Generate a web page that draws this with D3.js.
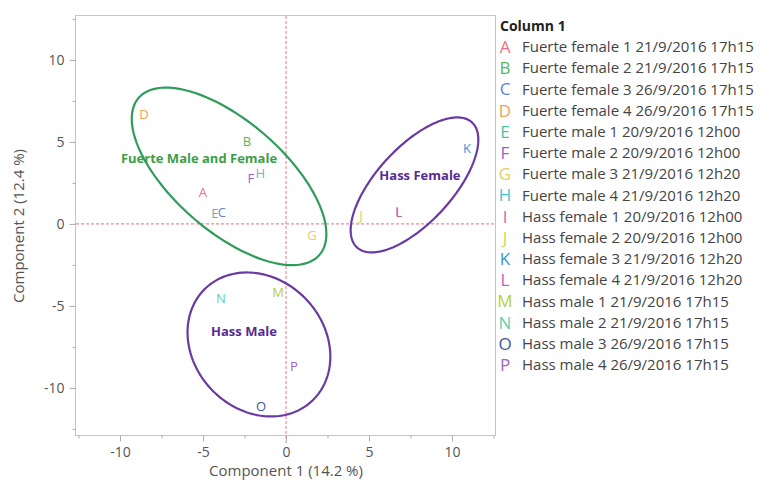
<!DOCTYPE html>
<meta charset="utf-8">
<title>PCA scores</title>
<style>

body {
  margin: 0;
  background: #fff;
}

text {
  font-family: "Open Sans", sans-serif;
}

.frame {
  fill: none;
  stroke: #c4c4c4;
}

.axis path {
  display: none;
}

.axis line {
  stroke: #b0b0b0;
}

.axis text {
  fill: #555;
  font-size: 14px;
}

.refline {
  stroke: #f08a9a;
  stroke-width: 1.2px;
  stroke-dasharray: 3,2;
}

</style>
<body>
<script src="https://cdn.jsdelivr.net/npm/d3@7"></script>
<script>

// samples (letter marks)
var letters = ["A","B","C","D","E","F","G","H","I","J","K","L","M","N","O","P"];
var names = [
  "Fuerte female 1 21/9/2016 17h15",
  "Fuerte female 2 21/9/2016 17h15",
  "Fuerte female 3 26/9/2016 17h15",
  "Fuerte female 4 26/9/2016 17h15",
  "Fuerte male 1 20/9/2016 12h00",
  "Fuerte male 2 20/9/2016 12h00",
  "Fuerte male 3 21/9/2016 12h20",
  "Fuerte male 4 21/9/2016 12h20",
  "Hass female 1 20/9/2016 12h00",
  "Hass female 2 20/9/2016 12h00",
  "Hass female 3 21/9/2016 12h20",
  "Hass female 4 21/9/2016 12h20",
  "Hass male 1 21/9/2016 17h15",
  "Hass male 2 21/9/2016 17h15",
  "Hass male 3 26/9/2016 17h15",
  "Hass male 4 26/9/2016 17h15"
];
var comp1 = [-5.0, -2.35, -3.86, -8.55, -4.28, -2.11, 1.57, -1.55, 6.69, 4.52, 10.9, 6.8, -0.48, -3.92, -1.5, 0.48];
var comp2 = [1.95, 5.06, 0.67, 6.65, 0.61, 2.8, -0.73, 3.05, 0.79, 0.49, 4.63, 0.67, -4.15, -4.57, -11.1, -8.66];
var colors = ["#ec6f82", "#55b855", "#5b84d8", "#e9a35a", "#4cc4a0", "#9a5fd0", "#e6cf5c", "#48c3d6",
              "#cf6aa2", "#c6d95e", "#3d93d2", "#c35ec0", "#b7cf3c", "#5fcfb0", "#4154a3", "#a461c4"];

// ellipse groups (data units)
var groups = ["Fuerte Male and Female", "Hass Female", "Hass Male"];
var groupCx = [-3.43, 7.74, -1.63];
var groupCy = [2.90, 2.38, -7.35];
var groupA = [7.25, 5.15, 4.7];
var groupB = [3.33, 2.28, 3.96];
var groupAngle = [-41.5, 47.9, -48.5];
var groupLabelX = [-5.24, 8.07, -2.53];
var groupLabelY = [3.70, 2.66, -6.85];
var groupColors = ["#2f9c5c", "#6a3aa2", "#6a3aa2"];
var labelColors = ["#3aa048", "#5a2a90", "#5a2a90"];

var xTicks = [-10, -5, 0, 5, 10];
var yTicks = [-10, -5, 0, 5, 10];

var width = 771,
    height = 484,
    plotLeft = 75,
    plotRight = 495,
    plotTop = 15,
    plotBottom = 435;

var x = d3.scaleLinear().domain([-12.71, 12.59]).range([plotLeft, plotRight]);
var y = d3.scaleLinear().domain([-12.87, 12.74]).range([plotBottom, plotTop]);

var svg = d3.select("body").append("svg")
    .attr("width", width)
    .attr("height", height);

svg.append("rect")
    .attr("class", "frame")
    .attr("x", plotLeft + 0.5)
    .attr("y", plotTop + 0.5)
    .attr("width", plotRight - plotLeft)
    .attr("height", plotBottom - plotTop);

// minor ticks every 2.5
var minorX = d3.range(-12.5, 12.6, 2.5).filter(function(d) { return x(d) >= plotLeft && x(d) <= plotRight; });
var minorY = d3.range(-12.5, 12.6, 2.5).filter(function(d) { return y(d) >= plotTop && y(d) <= plotBottom; });

svg.append("g")
    .attr("class", "axis")
    .attr("transform", "translate(0," + (plotBottom + 0.5) + ")")
    .call(d3.axisBottom(x).tickValues(minorX).tickSize(3).tickFormat(""));

svg.append("g")
    .attr("class", "axis")
    .attr("transform", "translate(" + (plotLeft + 0.5) + ",0)")
    .call(d3.axisLeft(y).tickValues(minorY).tickSize(3).tickFormat(""));

svg.append("g")
    .attr("class", "axis")
    .attr("transform", "translate(0," + (plotBottom + 0.5) + ")")
    .call(d3.axisBottom(x).tickValues(xTicks).tickSize(6).tickPadding(6).tickFormat(String));

svg.append("g")
    .attr("class", "axis")
    .attr("transform", "translate(" + (plotLeft + 0.5) + ",0)")
    .call(d3.axisLeft(y).tickValues(yTicks).tickSize(6).tickPadding(5).tickFormat(String));

// reference lines at zero
svg.append("line")
    .attr("class", "refline")
    .attr("x1", plotLeft + 1).attr("x2", plotRight)
    .attr("y1", y(0)).attr("y2", y(0));

svg.append("line")
    .attr("class", "refline")
    .attr("x1", x(0)).attr("x2", x(0))
    .attr("y1", plotTop + 1).attr("y2", plotBottom + 8);

// ellipses
var line = d3.line()
    .x(function(p) { return x(p[0]); })
    .y(function(p) { return y(p[1]); })
    .curve(d3.curveLinearClosed);

groups.forEach(function(g, i) {
  var t = groupAngle[i] * Math.PI / 180;
  var pts = d3.range(0, 2 * Math.PI, Math.PI / 90).map(function(s) {
    var u = groupA[i] * Math.cos(s), v = groupB[i] * Math.sin(s);
    return [groupCx[i] + u * Math.cos(t) - v * Math.sin(t),
            groupCy[i] + u * Math.sin(t) + v * Math.cos(t)];
  });
  svg.append("path")
      .attr("d", line(pts))
      .attr("fill", "none")
      .attr("stroke", groupColors[i])
      .attr("stroke-width", 2.2);
});

svg.selectAll(".glabel")
    .data(groups)
  .enter().append("text")
    .attr("class", "glabel")
    .attr("x", function(d, i) { return x(groupLabelX[i]); })
    .attr("y", function(d, i) { return y(groupLabelY[i]); })
    .attr("text-anchor", "middle")
    .attr("fill", function(d, i) { return labelColors[i]; })
    .style("font-size", "13px")
    .style("font-weight", "bold")
    .text(function(d) { return d; });

// letter marks
svg.selectAll(".mark")
    .data(letters)
  .enter().append("text")
    .attr("class", "mark")
    .attr("x", function(d, i) { return x(comp1[i]); })
    .attr("y", function(d, i) { return y(comp2[i]); })
    .attr("dy", "0.35em")
    .attr("text-anchor", "middle")
    .attr("fill", function(d, i) { return colors[i]; })
    .style("font-size", "13px")
    .text(function(d) { return d; });

// axis titles
svg.append("text")
    .attr("x", x(0))
    .attr("y", 476)
    .attr("text-anchor", "middle")
    .attr("fill", "#555")
    .style("font-size", "15px")
    .text("Component 1  (14.2 %)");

svg.append("text")
    .attr("transform", "translate(24,226)rotate(-90)")
    .attr("text-anchor", "middle")
    .attr("fill", "#555")
    .style("font-size", "15px")
    .text("Component 2  (12.4 %)");

// legend
var legend = svg.append("g")
    .attr("transform", "translate(500,0)");

legend.append("text")
    .attr("x", 0)
    .attr("y", 31)
    .attr("fill", "#222")
    .style("font-size", "14px")
    .style("font-weight", "bold")
    .text("Column 1");

var row = legend.selectAll(".row")
    .data(letters)
  .enter().append("g")
    .attr("class", "row")
    .attr("transform", function(d, i) { return "translate(0," + (47 + i * 21.2) + ")"; });

row.append("text")
    .attr("x", 5)
    .attr("dy", "0.35em")
    .attr("text-anchor", "middle")
    .attr("fill", function(d, i) { return colors[i]; })
    .style("font-size", "17px")
    .text(function(d) { return d; });

row.append("text")
    .attr("x", 22)
    .attr("dy", "0.35em")
    .attr("fill", "#444")
    .style("font-size", "15px")
    .text(function(d, i) { return names[i]; });

</script>
